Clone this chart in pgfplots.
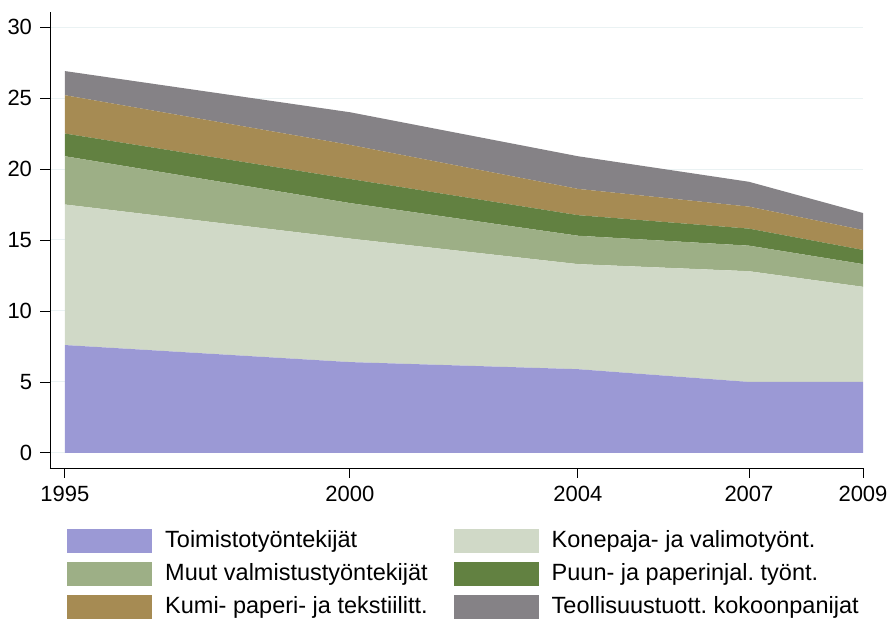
\documentclass[border=0pt]{standalone}
\usepackage{pgfplots}
\pgfplotsset{compat=1.18}
\usepackage{fontspec}
\setmainfont{Liberation Sans}
\definecolor{cToim}{HTML}{9B99D5}
\definecolor{cKone}{HTML}{D0D9C7}
\definecolor{cMuut}{HTML}{9DAF86}
\definecolor{cPuun}{HTML}{628141}
\definecolor{cKumi}{HTML}{A68B53}
\definecolor{cTeol}{HTML}{858286}
\definecolor{gridc}{HTML}{EAF2F3}
\frenchspacing
\begin{document}
\fontsize{23.5}{28}\selectfont
\begin{tikzpicture}
\begin{axis}[
  scale only axis, width=813pt, height=456pt,
  xmin=1994.74, xmax=2009, ymin=-1.06, ymax=31.06,
  axis x line=bottom, axis y line=left,
  axis line style={-, black, line width=0.9pt},
  xtick={1995,2000,2004,2007,2009}, ytick={0,5,10,15,20,25,30},
  xticklabel style={/pgf/number format/1000 sep={}},
  /pgf/number format/assume math mode=true,
  tick label style={font=\fontsize{22}{26}\selectfont},
  tick align=outside, major tick length=10pt,
  tick style={black, line width=0.9pt},
  ymajorgrids, grid style={gridc, line width=1pt},
  stack plots=y,
  legend columns=2,
  legend cell align=left,
  legend style={at={(0.0209,-0.1305)}, anchor=north west, draw=none, fill=none,
    inner sep=0pt,
    font=\fontsize{23.5}{28}\selectfont,
    nodes={inner xsep=13pt, inner ysep=0pt, text height=20pt, text depth=6pt},
    row sep=7pt, column sep=0pt,
    /tikz/every even column/.append style={column sep=13pt}},
  legend image code/.code={\fill[#1] (0pt,-12pt) rectangle (85pt,12pt);},
]
\addplot[fill=cToim, draw=none] coordinates {(1995,7.6) (2000,6.4) (2004,5.9) (2007,5.0) (2009,5.0)} \closedcycle;
\addlegendentry{Toimistotyöntekijät}
\addplot[fill=cKone, draw=none] coordinates {(1995,9.9) (2000,8.7) (2004,7.4) (2007,7.8) (2009,6.7)} \closedcycle;
\addlegendentry{Konepaja- ja valimotyönt.}
\addplot[fill=cMuut, draw=none] coordinates {(1995,3.4) (2000,2.5) (2004,2.0) (2007,1.8) (2009,1.6)} \closedcycle;
\addlegendentry{Muut valmistustyöntekijät}
\addplot[fill=cPuun, draw=none] coordinates {(1995,1.6) (2000,1.7) (2004,1.45) (2007,1.2) (2009,1.0)} \closedcycle;
\addlegendentry{Puun- ja paperinjal. työnt.}
\addplot[fill=cKumi, draw=none] coordinates {(1995,2.7) (2000,2.4) (2004,1.85) (2007,1.55) (2009,1.4)} \closedcycle;
\addlegendentry{Kumi- paperi- ja tekstiilitt.}
\addplot[fill=cTeol, draw=none] coordinates {(1995,1.7) (2000,2.3) (2004,2.3) (2007,1.75) (2009,1.2)} \closedcycle;
\addlegendentry{Teollisuustuott. kokoonpanijat}
\coordinate (axbl) at (rel axis cs:0,0);
\end{axis}
\pgfresetboundingbox
\path ([shift={(-50pt,-152pt)}]axbl) rectangle ([shift={(837pt,468pt)}]axbl);
\end{tikzpicture}
\end{document}
